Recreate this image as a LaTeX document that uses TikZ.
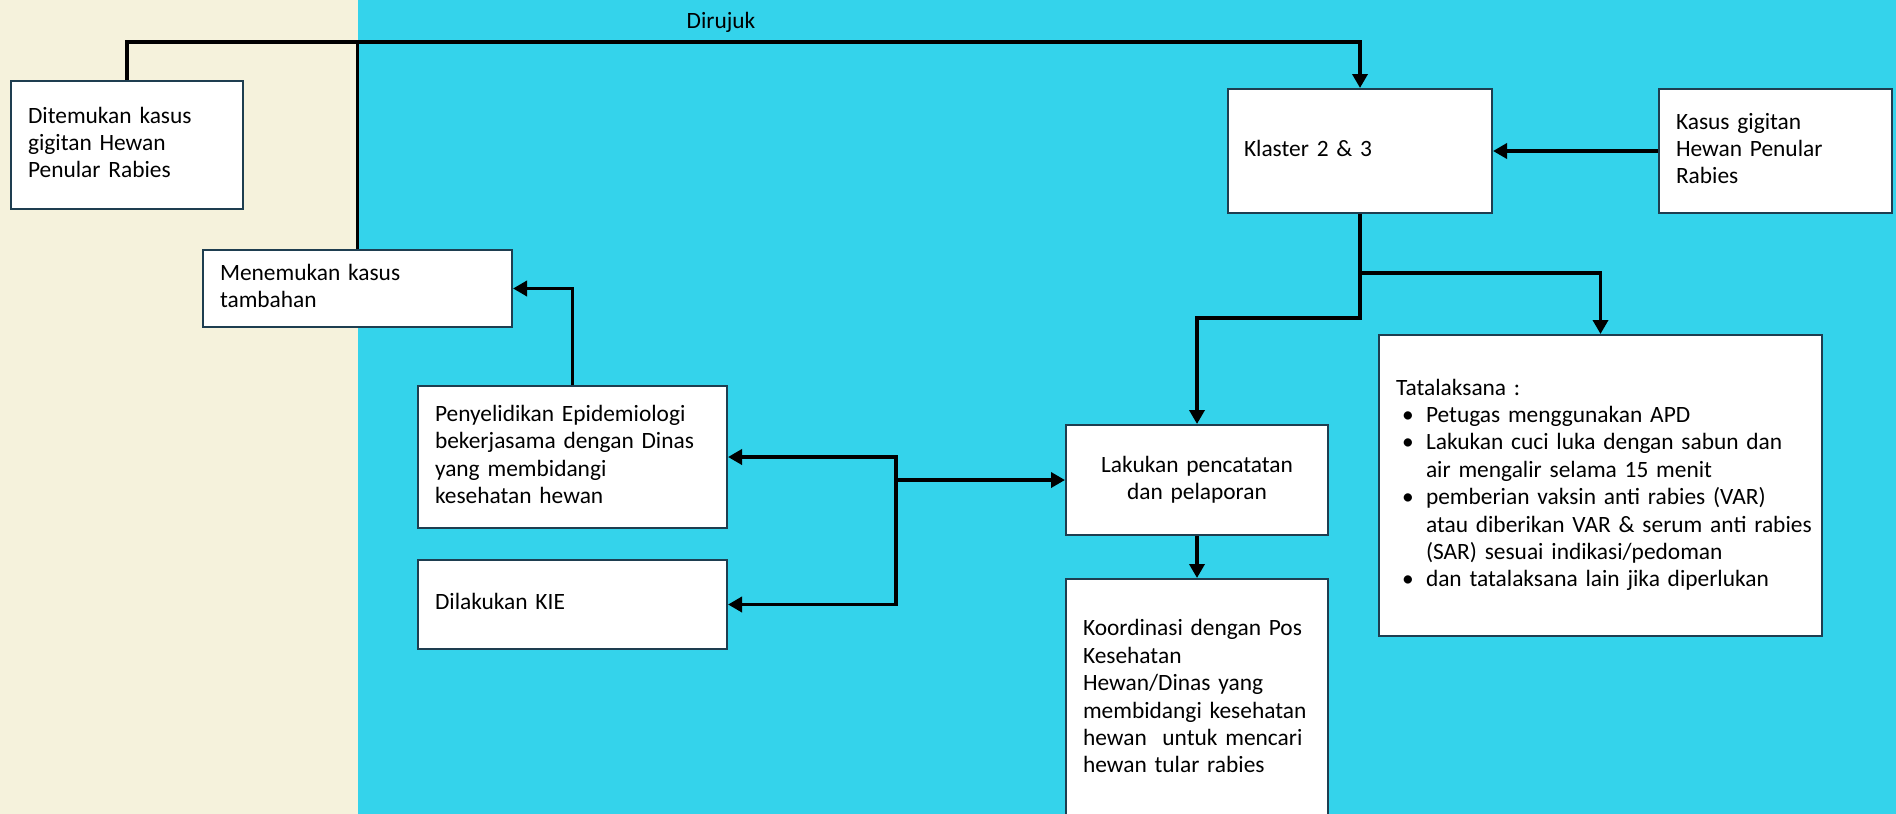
\documentclass[tikz,border=0pt]{standalone}
\usepackage{fontspec}
\setmainfont{Carlito}
\usepackage{tikz}
\usetikzlibrary{
	arrows.meta,
	calc,
	positioning
}
\definecolor{SoftCream}{RGB}{245,242,220}
\definecolor{SkyCyan}{RGB}{52,211,235}
\definecolor{BoxEdge}{RGB}{30,62,80}
\newcommand{\isi}[1]{\begin{tabular}{@{}l@{}}#1\end{tabular}}
\newcommand{\butir}{\hspace*{3pt}\makebox[12pt][l]{\textbullet}}

\begin{document}
\begin{tikzpicture}[x=0.5pt,y=-0.5pt,
		every node/.style={font=\fontsize{11.7}{13.7}\selectfont},
		kotak/.style={draw=BoxEdge, line width=1pt, fill=white, anchor=north west,
			inner xsep=8.5pt, inner ysep=0pt, align=left},
		garis/.style={line width=1.75pt},
		panah/.style={line width=1.75pt, -{Triangle[length=7pt,width=7.5pt]}}]
			\useasboundingbox (0,0) rectangle (1896,814);
			\fill[SoftCream] (0,0) rectangle (358,814);
			\fill[SkyCyan] (358,0) rectangle (1896,814);
			
			\node[kotak, text width=99pt, minimum height=64pt] (temu) at (10,80)
				{\isi{Ditemukan kasus\\gigitan Hewan\\Penular Rabies}};
			\node[kotak, text width=137.5pt, minimum height=38.5pt] (tambah) at (202,249)
				{\isi{Menemukan kasus\\tambahan}};
			\node[kotak, inner xsep=8pt, text width=116pt, minimum height=62pt] (klaster) at (1227,88)
				{\isi{Klaster 2 \& 3}};
			\node[kotak, text width=99.5pt, minimum height=62pt] (gigit) at (1658,88)
				{\isi{Kasus gigitan\\Hewan Penular\\Rabies}};
			\node[kotak, text width=204.5pt, minimum height=150.5pt] (tata) at (1378,334)
				{\isi{Tatalaksana :\\
				\butir Petugas menggunakan APD\\
				\butir Lakukan cuci luka dengan sabun dan\\
				\hspace*{15pt}air mengalir selama 15 menit\\
				\butir pemberian vaksin anti rabies (VAR)\\
				\hspace*{15pt}atau diberikan VAR \& serum anti rabies\\
				\hspace*{15pt}(SAR) sesuai indikasi/pedoman\\
				\butir dan tatalaksana lain jika diperlukan}};
			\node[kotak, inner xsep=0pt, text width=131pt, minimum height=55pt, align=center] (catat) at (1065,424)
				{Lakukan pencatatan\\dan pelaporan};
			\node[kotak, text width=114pt, minimum height=120pt] (koor) at (1065,578)
				{\isi{Koordinasi dengan Pos\\Kesehatan\\Hewan/Dinas yang\\membidangi kesehatan\\hewan\ \ untuk mencari\\hewan tular rabies}};
			\node[kotak, text width=137.5pt, minimum height=71pt] (selidik) at (417,385)
				{\isi{Penyelidikan Epidemiologi\\bekerjasama dengan Dinas\\yang membidangi\\kesehatan hewan}};
			\node[kotak, text width=137.5pt, minimum height=44.5pt] (kie) at (417,559)
				{\isi{Dilakukan KIE}};
			
			\coordinate (jalur) at (0,42);
			\coordinate (cabang) at (0,273);
			\coordinate (turun) at (0,318);
			\coordinate (simpul) at (896,480);
			
			\draw[panah] (temu.north) |- (jalur -| klaster.north) -- (klaster.north);
			\draw[garis] (tambah.north) -- (tambah.north |- jalur);
			\node (rujuk) at (721,22) {Dirujuk};
			\draw[panah] (gigit.west) -- (klaster.east);
			\draw[panah] (klaster.south) |- (cabang -| tata.north) -- (tata.north);
			\draw[panah] (klaster.south) |- (turun -| catat.north) -- (catat.north);
			\draw[panah] (catat.south) -- (koor.north);
			\draw[panah] (selidik.north) |- (tambah.east);
			\draw[panah] (simpul |- catat.west) -- (catat.west);
			\draw[panah] (simpul |- catat.west) |- (selidik.east);
			\draw[panah] (simpul |- catat.west) |- (kie.east);
		\end{tikzpicture}
\end{document}
